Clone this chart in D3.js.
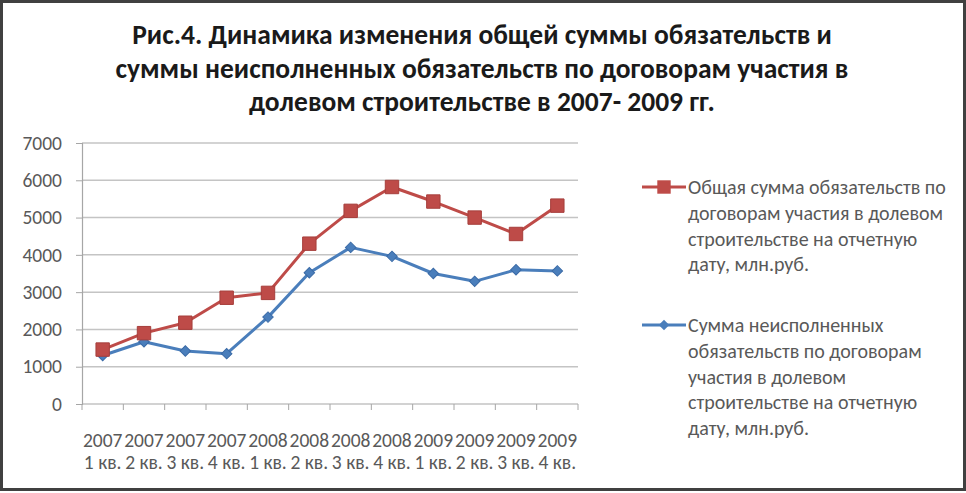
<!DOCTYPE html>
<html>
<head>
<meta charset="utf-8">
<script src="https://cdn.jsdelivr.net/npm/d3@7"></script>
<style>
  body { margin: 0; background: #fff; }
  svg { display: block; }
</style>
</head>
<body>
<svg id="chart"></svg>
<script>
// quarters on the x axis (two lines each)
const years = ['2007', '2007', '2007', '2007', '2008', '2008', '2008', '2008', '2009', '2009', '2009', '2009'];
const quarters = ['1 кв.', '2 кв.', '3 кв.', '4 кв.', '1 кв.', '2 кв.', '3 кв.', '4 кв.', '1 кв.', '2 кв.', '3 кв.', '4 кв.'];

// total obligations, mln rub
const totalValues = [1460, 1900, 2180, 2850, 2980, 4300, 5180, 5820, 5430, 5000, 4560, 5320];
// outstanding obligations, mln rub
const outstandingValues = [1300, 1670, 1420, 1350, 2330, 3520, 4200, 3960, 3500, 3290, 3600, 3570];

const yTicks = [0, 1000, 2000, 3000, 4000, 5000, 6000, 7000];

const titleLines = [
  'Рис.4. Динамика изменения общей суммы обязательств и',
  'суммы неисполненных обязательств по договорам участия в',
  'долевом строительстве в 2007- 2009 гг.'
];
const legendTotal = ['Общая сумма обязательств по', 'договорам участия в долевом', 'строительстве на отчетную', 'дату, млн.руб.'];
const legendOutstanding = ['Сумма неисполненных', 'обязательств по договорам', 'участия в долевом', 'строительстве на отчетную', 'дату, млн.руб.'];

const W = 966, H = 493;
const red = '#BE4B48', blue = '#4A7EBB', textColor = '#595959';
const font = "Carlito, Calibri, 'Open Sans', sans-serif";

const svg = d3.select('#chart').attr('width', W).attr('height', H);

// outer frame
svg.append('rect')
  .attr('x', 1.5).attr('y', 1.5)
  .attr('width', W - 3).attr('height', H - 5)
  .attr('fill', '#fff')
  .attr('stroke', '#404040')
  .attr('stroke-width', 3);

// title
svg.append('g').selectAll('text')
  .data(titleLines)
  .enter().append('text')
  .attr('x', 482)
  .attr('y', (d, i) => 44 + i * 33.5)
  .attr('text-anchor', 'middle')
  .style('font-family', font)
  .style('font-weight', 'bold')
  .style('font-size', '27.5px')
  .style('fill', '#1a1a1a')
  .text(d => d);

// plot area
const margin = {left: 82, top: 143, right: 966 - 578, bottom: 493 - 404};
const width = W - margin.left - margin.right;
const height = H - margin.top - margin.bottom;

const g = svg.append('g')
  .attr('transform', 'translate(' + margin.left + ',' + margin.top + ')');

const x = d3.scaleBand()
  .domain(d3.range(years.length))
  .range([0, width]);

const y = d3.scaleLinear()
  .domain([0, 7000])
  .range([height, 0]);

// gridlines
g.append('g')
  .selectAll('line')
  .data(yTicks.filter(d => d > 0))
  .enter().append('line')
  .attr('x1', 0).attr('x2', width)
  .attr('y1', d => y(d)).attr('y2', d => y(d))
  .attr('stroke', '#c4c4c4')
  .attr('stroke-width', 1.5);

// y axis
const yAxis = g.append('g')
  .call(d3.axisLeft(y).tickValues(yTicks).tickFormat(d3.format('d')).tickSize(6).tickPadding(14));
yAxis.select('.domain').attr('stroke', '#a6a6a6').attr('stroke-width', 1.2);
yAxis.selectAll('.tick line').attr('stroke', '#a6a6a6');
yAxis.selectAll('.tick text')
  .style('font-family', font)
  .style('font-size', '19.5px')
  .style('fill', textColor);

// x axis: ticks on band boundaries
const xAxis = g.append('g').attr('transform', 'translate(0,' + height + ')');
xAxis.append('line')
  .attr('x1', 0).attr('x2', width)
  .attr('stroke', '#a6a6a6').attr('stroke-width', 1.2);
xAxis.selectAll('.bt')
  .data(d3.range(years.length + 1))
  .enter().append('line')
  .attr('class', 'bt')
  .attr('x1', d => d * x.step()).attr('x2', d => d * x.step())
  .attr('y1', 0).attr('y2', 6)
  .attr('stroke', '#a6a6a6');

const xLabels = xAxis.selectAll('.lbl')
  .data(d3.range(years.length))
  .enter().append('text')
  .attr('class', 'lbl')
  .attr('text-anchor', 'middle')
  .style('font-family', font)
  .style('font-size', '19.5px')
  .style('fill', textColor);
xLabels.append('tspan')
  .attr('x', i => x(i) + x.bandwidth() / 2)
  .attr('y', 43)
  .text(i => years[i]);
xLabels.append('tspan')
  .attr('x', i => x(i) + x.bandwidth() / 2)
  .attr('y', 65)
  .text(i => quarters[i]);

const cx = i => x(i) + x.bandwidth() / 2;
const line = d3.line().x((d, i) => cx(i)).y(d => y(d));

const diamond = d3.symbol().type(d3.symbolSquare).size(55);
const square = d3.symbol().type(d3.symbolSquare).size(180);

// outstanding series (blue)
g.append('path')
  .datum(outstandingValues)
  .attr('d', line)
  .attr('fill', 'none')
  .attr('stroke', blue)
  .attr('stroke-width', 3)
  .attr('stroke-linejoin', 'round');
g.selectAll('.pb')
  .data(outstandingValues)
  .enter().append('path')
  .attr('class', 'pb')
  .attr('d', diamond)
  .attr('transform', (d, i) => 'translate(' + cx(i) + ',' + y(d) + ') rotate(45)')
  .attr('fill', blue)
  .attr('stroke', '#3a6aa6');

// total series (red)
g.append('path')
  .datum(totalValues)
  .attr('d', line)
  .attr('fill', 'none')
  .attr('stroke', red)
  .attr('stroke-width', 3)
  .attr('stroke-linejoin', 'round');
g.selectAll('.pr')
  .data(totalValues)
  .enter().append('path')
  .attr('class', 'pr')
  .attr('d', square)
  .attr('transform', (d, i) => 'translate(' + cx(i) + ',' + y(d) + ')')
  .attr('fill', red)
  .attr('stroke', '#a63e3b');

// legend
function legendItem(top, lines, color, sym, rot) {
  const lg = svg.append('g');
  lg.append('line')
    .attr('x1', 642).attr('x2', 686)
    .attr('y1', top).attr('y2', top)
    .attr('stroke', color).attr('stroke-width', 3);
  lg.append('path')
    .attr('d', sym)
    .attr('transform', 'translate(664,' + top + ') rotate(' + rot + ')')
    .attr('fill', color);
  lg.selectAll('text')
    .data(lines)
    .enter().append('text')
    .attr('x', 688)
    .attr('y', (d, i) => top + 7 + i * 25.8)
    .style('font-family', font)
    .style('font-size', '20px')
    .style('fill', textColor)
    .text(d => d);
}
legendItem(187, legendTotal, red, square, 0);
legendItem(325, legendOutstanding, blue, diamond, 45);
</script>
</body>
</html>
